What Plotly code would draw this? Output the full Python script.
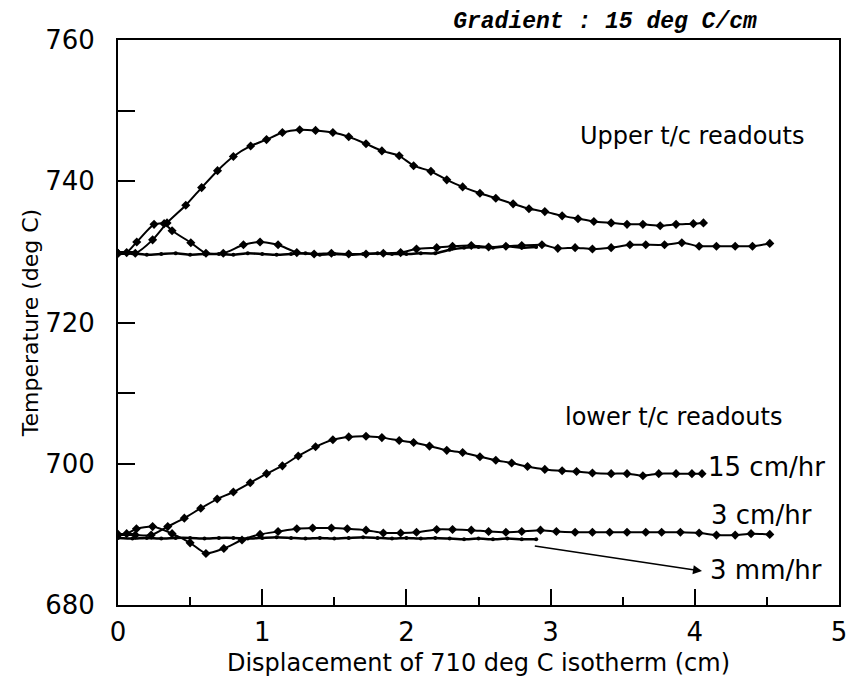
import plotly.graph_objects as go

# ---------------- data ----------------
# Upper thermocouple, 15 cm/hr
up15_x = [0.0, 0.12, 0.24, 0.34, 0.47, 0.58, 0.69, 0.80, 0.92, 1.03, 1.14, 1.26, 1.37,
          1.49, 1.60, 1.72, 1.83, 1.95, 2.05, 2.17, 2.28, 2.39, 2.51, 2.62, 2.74, 2.85,
          2.96, 3.08, 3.19, 3.30, 3.42, 3.53, 3.64, 3.76, 3.87, 3.99, 4.06]
up15_y = [729.8, 729.8, 731.7, 734.1, 736.6, 739.1, 741.5, 743.5, 745.0, 745.9, 746.9, 747.3, 747.2,
          746.9, 746.3, 745.3, 744.3, 743.6, 742.2, 741.4, 740.2, 739.2, 738.3, 737.6, 736.8, 736.1,
          735.7, 735.1, 734.7, 734.3, 734.1, 733.9, 733.9, 733.7, 733.9, 734.0, 734.1]

# Upper thermocouple, 3 cm/hr
up3_x = [0.0, 0.06, 0.13, 0.25, 0.32, 0.375, 0.505, 0.61, 0.73, 0.87, 0.985, 1.11, 1.24,
         1.36, 1.48, 1.60, 1.72, 1.84, 1.96, 2.07, 2.21, 2.32, 2.45, 2.57, 2.69, 2.80,
         2.94, 3.05, 3.17, 3.29, 3.42, 3.55, 3.66, 3.79, 3.91, 4.03, 4.15, 4.28, 4.40, 4.52]
up3_y = [729.8, 729.9, 731.4, 733.9, 734.0, 733.0, 731.3, 729.8, 729.8, 731.0, 731.4, 731.0, 729.9,
         729.7, 729.8, 729.7, 729.7, 729.8, 729.9, 730.4, 730.6, 730.8, 730.9, 730.7, 730.8, 730.9,
         731.0, 730.5, 730.6, 730.4, 730.6, 731.0, 731.0, 731.0, 731.3, 730.8, 730.8, 730.8, 730.8, 731.2]

# Upper thermocouple, 3 mm/hr
up03_x = [0.0, 0.1, 0.2, 0.3, 0.4, 0.5, 0.6, 0.7, 0.8, 0.9, 1.0, 1.1, 1.2, 1.3, 1.4,
          1.5, 1.6, 1.7, 1.8, 1.9, 2.0, 2.1, 2.2, 2.3, 2.4, 2.5, 2.6, 2.7, 2.8, 2.9]
up03_y = [729.7, 729.8, 729.6, 729.7, 729.8, 729.6, 729.7, 729.7, 729.6, 729.8, 729.7, 729.6,
          729.7, 729.8, 729.6, 729.7, 729.6, 729.7, 729.8, 729.7, 729.7, 729.8, 729.8, 730.3,
          730.6, 730.7, 730.6, 730.8, 730.6, 730.7]

# Lower thermocouple, 15 cm/hr
lo15_x = [0.0, 0.12, 0.23, 0.345, 0.46, 0.574, 0.688, 0.80, 0.917, 1.03, 1.14, 1.25, 1.37,
          1.49, 1.60, 1.72, 1.83, 1.95, 2.05, 2.16, 2.28, 2.39, 2.51, 2.62, 2.73, 2.84,
          2.96, 3.08, 3.18, 3.29, 3.42, 3.53, 3.64, 3.75, 3.87, 3.98, 4.05]
lo15_y = [689.9, 689.9, 689.9, 691.1, 692.3, 693.7, 695.0, 696.0, 697.3, 698.6, 699.7, 701.1, 702.4,
          703.4, 703.8, 703.9, 703.7, 703.3, 703.0, 702.5, 701.9, 701.6, 701.0, 700.5, 700.1, 699.6,
          699.2, 699.0, 698.9, 698.7, 698.6, 698.6, 698.3, 698.6, 698.6, 698.6, 698.6]

# Lower thermocouple, 3 cm/hr
lo3_x = [0.0, 0.06, 0.128, 0.24, 0.375, 0.50, 0.61, 0.734, 0.86, 0.985, 1.11, 1.24, 1.35,
         1.48, 1.59, 1.72, 1.84, 1.96, 2.07, 2.21, 2.32, 2.45, 2.57, 2.69, 2.80, 2.93,
         3.04, 3.17, 3.29, 3.41, 3.53, 3.66, 3.77, 3.90, 4.03, 4.15, 4.28, 4.39, 4.52]
lo3_y = [690.0, 690.1, 690.8, 691.1, 690.1, 688.8, 687.3, 688.0, 689.2, 690.0, 690.4, 690.8, 690.9,
         690.9, 690.8, 690.6, 690.2, 690.2, 690.3, 690.7, 690.7, 690.6, 690.4, 690.3, 690.4, 690.6,
         690.4, 690.3, 690.3, 690.3, 690.3, 690.3, 690.3, 690.3, 690.2, 689.9, 689.9, 690.1, 690.0]

# Lower thermocouple, 3 mm/hr
lo03_x = [0.0, 0.1, 0.2, 0.3, 0.4, 0.5, 0.6, 0.7, 0.8, 0.9, 1.0, 1.1, 1.2, 1.3, 1.4,
          1.5, 1.6, 1.7, 1.8, 1.9, 2.0, 2.1, 2.2, 2.3, 2.4, 2.5, 2.6, 2.7, 2.8, 2.9]
lo03_y = [689.5, 689.4, 689.5, 689.4, 689.5, 689.5, 689.4, 689.5, 689.5, 689.4, 689.5, 689.6,
          689.5, 689.4, 689.5, 689.4, 689.5, 689.6, 689.5, 689.4, 689.5, 689.4, 689.5, 689.4,
          689.3, 689.4, 689.3, 689.4, 689.3, 689.3]

x_ticks = [0, 1, 2, 3, 4, 5]
y_ticks = [680, 700, 720, 740, 760]

# ---------------- figure ----------------
fig = go.Figure()

def add(xs, ys, msize=7, sym="diamond", width=2):
    fig.add_trace(go.Scatter(
        x=xs, y=ys, mode="lines+markers",
        line=dict(color="black", width=width, shape="spline", smoothing=0.6),
        marker=dict(color="black", size=msize, symbol=sym),
        showlegend=False, hoverinfo="skip"))

add(up15_x, up15_y)
add(up3_x, up3_y)
add(up03_x, up03_y, msize=4, sym="circle", width=2.5)
add(lo15_x, lo15_y)
add(lo3_x, lo3_y)
add(lo03_x, lo03_y, msize=4, sym="circle", width=2.5)

font_main = "DejaVu Sans"

fig.update_layout(
    width=853, height=687,
    margin=dict(l=118, r=6, t=40, b=82),
    paper_bgcolor="white", plot_bgcolor="white",
    title=dict(text="Gradient : 15 deg C/cm", x=605/853, xanchor="center",
               y=1 - 20/687, yanchor="middle",
               font=dict(family="Liberation Mono", size=23, color="black",
                         style="italic", weight="bold")),
    font=dict(family=font_main, color="black"),
)

fig.update_xaxes(
    range=[0, 5], tickvals=x_ticks, ticks="inside", ticklen=16, tickwidth=2,
    tickcolor="black", showline=True, linecolor="black", linewidth=2, mirror=True,
    showgrid=False, zeroline=False, tickfont=dict(size=26, family=font_main),
    ticklabelstandoff=3, ticklabeloverflow="allow",
    minor=dict(dtick=0.5, ticks="inside", ticklen=8, tickwidth=2, tickcolor="black"),
    title=dict(text="Displacement of 710 deg C isotherm (cm)",
               font=dict(size=24, family=font_main), standoff=8),
)
fig.update_yaxes(
    range=[680, 760], tickvals=y_ticks, ticks="inside", ticklen=17, tickwidth=2,
    tickcolor="black", showline=True, linecolor="black", linewidth=2, mirror=True,
    showgrid=False, zeroline=False, tickfont=dict(size=26, family=font_main),
    ticklabelstandoff=16, ticklabeloverflow="allow",
    minor=dict(dtick=10, ticks="inside", ticklen=17, tickwidth=2, tickcolor="black"),
    title=dict(text="Temperature (deg C)", font=dict(size=22, family=font_main), standoff=0),
)

def label(text, x, y, anchor="left", size=24):
    fig.add_annotation(x=x, y=y, xref="x", yref="y", text=text, showarrow=False,
                       xanchor=anchor, yanchor="middle",
                       font=dict(size=size, family=font_main, color="black"))

label("Upper t/c readouts", 3.98, 746.4, anchor="center", size=24)
label("lower t/c readouts", 3.85, 706.6, anchor="center", size=24)
label("15 cm/hr", 4.08, 699.5, size=26)
label("3 cm/hr", 4.10, 692.8, size=26)
label("3 mm/hr", 4.09, 685.0, size=26)

fig.add_annotation(x=4.05, y=684.8, ax=2.88, ay=688.4, xref="x", yref="y",
                   axref="x", ayref="y", text="", showarrow=True,
                   arrowhead=2, arrowsize=1.2, arrowwidth=1.5, arrowcolor="black")

fig.write_html("out.html")
